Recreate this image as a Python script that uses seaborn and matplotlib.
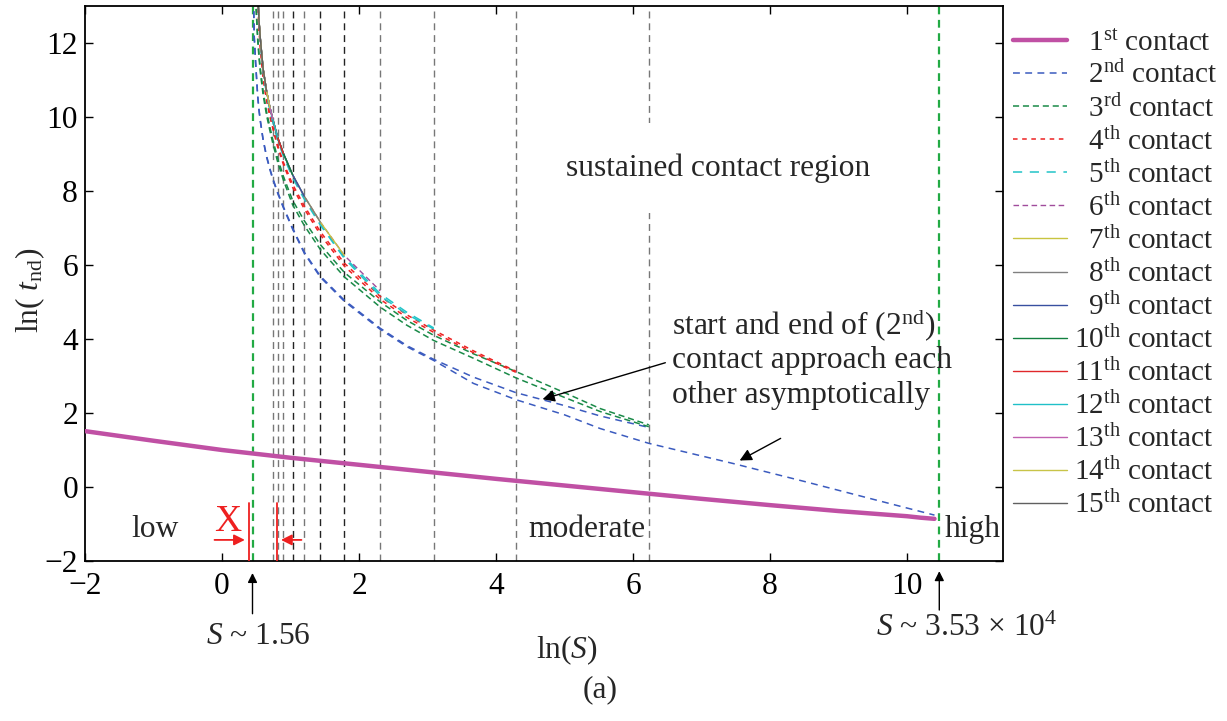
import numpy as np
import pandas as pd
import matplotlib
matplotlib.use("Agg")
import matplotlib.pyplot as plt
import seaborn as sns

nan = np.nan

# ---------------- data ----------------
contact1_lnS = [-2, -1, 0, 1, 2, 3, 4, 5, 6, 7, 8, 9, 9.5, 10, 10.2, 10.4]
contact1_ln_t = [1.51, 1.25, 1.0, 0.79, 0.6, 0.41, 0.22, 0.04, -0.14, -0.32,
                 -0.49, -0.65, -0.72, -0.79, -0.83, -0.86]

lnS_grid = [0.46, 0.47, 0.49, 0.52, 0.54, 0.56, 0.60, 0.65, 0.70, 0.74, 0.81,
            0.895, 1.03, 1.20, 1.435, 1.785, 2.31, 2.70, 3.09, 3.67, 4.29,
            5.00, 5.52, 6.23, 7.45, 8.50, 9.50, 10.40]

c2_start = [13.2, 12.2, 11.5, 10.6, 10.2, 9.9, 9.4, 8.95, 8.6, 8.35, 7.98, 7.58,
            7.0, 6.35, 5.7, 5.05, 4.29, 3.82, 3.45, 2.97, 2.55, 2.2, 1.92, 1.61]
c2_end = [13.2, 12.17, 11.47, 10.57, 10.17, 9.87, 9.37, 8.92, 8.57, 8.32, 7.95,
          7.55, 6.97, 6.32, 5.67, 5.02, 4.26, 3.79, 3.42, 2.80, 2.36, 1.95,
          1.58, 1.18, 0.64, 0.15, -0.33, -0.76]
c3_start = [nan, nan, 13.3, 12.2, 11.7, 11.3, 10.7, 10.15, 9.72, 9.4, 8.9, 8.4,
            7.75, 7.2, 6.55, 5.8, 5.0, 4.5, 4.1, 3.6, 3.12, 2.55, 2.12, 1.68]
c3_end = [nan, nan, 13.2, 12.1, 11.6, 11.2, 10.6, 10.05, 9.62, 9.3, 8.8, 8.3,
          7.63, 7.07, 6.42, 5.68, 4.86, 4.37, 3.96, 3.48, 2.95, 2.42, 2.04,
          1.63]
c4_start = [nan, nan, nan, 13.3, 12.4, 11.9, 11.1, 10.5, 10.05, 9.75, 9.25,
            8.78, 8.18, 7.6, 6.9, 6.05, 5.15, 4.65, 4.24, 3.68, 3.13]
c4_end = [nan, nan, nan, 13.25, 12.35, 11.85, 11.05, 10.45, 10.0, 9.7, 9.2,
          8.72, 8.1, 7.52, 6.82, 5.97, 5.07, 4.58, 4.18, 3.63, 3.1]
c5_start = [nan, nan, nan, 13.4, 12.55, 12.05, 11.25, 10.65, 10.2, 9.9, 9.42,
            8.98, 8.4, 7.82, 7.12, 6.22, 5.22, 4.72, 4.3]
c5_end = [nan, nan, nan, 13.38, 12.52, 12.02, 11.22, 10.62, 10.17, 9.87, 9.39,
          8.95, 8.36, 7.78, 7.08, 6.18, 5.16, 4.67, 4.27]
# contacts 6..15 lie on top of each other (upper bundle)
bundle_ln_t = [nan, nan, nan, 13.4, 12.6, 12.1, 11.3, 10.7, 10.25, 9.95, 9.46,
               9.02, 8.44, 7.86, 7.16, 6.26, 5.3]
bundle_end_lnS = {6: 2.31, 7: 1.785, 8: 1.435, 9: 1.20, 10: 1.03, 11: 0.895,
                  12: 0.81, 13: 0.74, 14: 0.70, 15: 0.65}

transition_lnS = [0.74, 0.81, 0.895, 1.03, 1.20, 1.435, 1.785, 2.31, 3.09,
                  4.29, 6.23]
regime_lnS = [0.445, 10.47]          # S ~ 1.56 and S ~ 3.53e4
x_band_lnS = [0.394, 0.80]

# ---------------- style ----------------
sns.set_theme(style="ticks")
plt.rcParams["font.family"] = ["Liberation Serif", "DejaVu Serif"]
plt.rcParams["mathtext.fontset"] = "custom"
plt.rcParams["mathtext.rm"] = "Liberation Serif"
plt.rcParams["mathtext.it"] = "Liberation Serif:italic"
plt.rcParams["mathtext.bf"] = "Liberation Serif:bold"
plt.rcParams["axes.linewidth"] = 1.3

FS = 22.7
LFS = 21

fig = plt.figure(figsize=(12.27, 7.21), dpi=100)
ax = fig.add_axes([85 / 1227, 1 - 561 / 721, (1003 - 85) / 1227, (561 - 6) / 721])


def draw(xs, ys, color, ls, lw, label="_nolegend_", z=2):
    n = len(ys)
    df = pd.DataFrame({"lnS": xs[:n], "lnt": ys}).dropna()
    sns.lineplot(data=df, x="lnS", y="lnt", ax=ax, color=color, linestyle=ls,
                 linewidth=lw, label=label, estimator=None, sort=False,
                 errorbar=None, zorder=z)


def ordinal(k):
    suf = {1: "st", 2: "nd", 3: "rd"}.get(k, "th")
    pad = "  " if k < 10 else ""
    return pad + str(k) + r"$^{\mathrm{" + suf + r"}}$ contact"


# vertical transition lines
trans_colors = ["#777777", "#777777", "#777777", "#222222", "#777777",
                "#222222", "#222222", "#777777", "#777777", "#777777", "#777777"]
for xv, col in zip(transition_lnS, trans_colors):
    ax.axvline(xv, color=col, linestyle=(0, (5, 3.5)), linewidth=1.0, zorder=1)
for xv in regime_lnS:
    ax.axvline(xv, color="#22aa44", linestyle=(0, (3.5, 2.5)), linewidth=1.6,
               zorder=1)

# curves
draw(contact1_lnS, contact1_ln_t, "#c050a4", "-", 3.2, ordinal(1), z=4)
draw(lnS_grid, c2_start, "#3b5bbf", (0, (4.5, 3.5)), 1.1, ordinal(2))
draw(lnS_grid, c2_end, "#3b5bbf", (0, (4.5, 3.5)), 1.1)
draw(lnS_grid, c3_start, "#1a8a48", (0, (4, 2.5)), 1.1, ordinal(3))
draw(lnS_grid, c3_end, "#1a8a48", (0, (4, 2.5)), 1.1)
draw(lnS_grid, c4_start, "#ee2222", (0, (3, 3)), 1.1, ordinal(4))
draw(lnS_grid, c4_end, "#ee2222", (0, (3, 3)), 1.1)
draw(lnS_grid, c5_start, "#22c4c8", (0, (6, 5)), 1.1, ordinal(5))
draw(lnS_grid, c5_end, "#22c4c8", (0, (6, 5)), 1.1)

bundle_styles = {
    6: ("#a04c9c", (0, (4, 2.5))),
    7: ("#c8c440", "-"),
    8: ("#808080", "-"),
    9: ("#3850a0", "-"),
    10: ("#128040", "-"),
    11: ("#e0282a", "-"),
    12: ("#20c0c8", "-"),
    13: ("#c060b0", "-"),
    14: ("#c8c448", "-"),
    15: ("#606060", "-"),
}
for k in range(6, 16):
    end = bundle_end_lnS[k]
    n = sum(1 for v in lnS_grid[:len(bundle_ln_t)] if v <= end + 1e-9)
    col, ls = bundle_styles[k]
    draw(lnS_grid, bundle_ln_t[:n], col, ls, 1.0, ordinal(k))

# axes
ax.set_xlim(-2, 11.4)
ax.set_ylim(-2, 13)
ax.set_xticks([-2, 0, 2, 4, 6, 8, 10])
ax.set_xticklabels(["\u22122", "0", "2", "4", "6", "8", "10"])
ax.set_yticks([-2, 0, 2, 4, 6, 8, 10, 12])
ax.set_yticklabels(["\u22122", "0", "2", "4", "6", "8", "10", "12"])
ax.tick_params(direction="in", top=True, right=True, length=6, width=1,
               labelsize=FS, colors="black")
ax.tick_params(axis="x", pad=8)
ax.tick_params(axis="y", pad=5)
ax.set_xlabel("")
ax.set_ylabel("")
for s in ax.spines.values():
    s.set_color("black")

# legend
handles, labels = ax.get_legend_handles_labels()
leg = ax.legend(handles, labels, loc="upper left",
                bbox_to_anchor=(0.8207, 0.9665), bbox_transform=fig.transFigure,
                borderaxespad=0, frameon=False, fontsize=LFS, handlelength=1.85,
                handletextpad=0.25, labelspacing=0.18, borderpad=0.2)

# texts inside the axes
ax.text(7.24, 8.62, "sustained contact region", fontsize=FS, ha="center",
        va="center", zorder=5,
        bbox=dict(facecolor="white", edgecolor="none", pad=22))
for yy, s in zip([4.38, 3.41, 2.46],
                 [r"start and end of (2$^{\mathrm{nd}}$)",
                  "contact approach each", "other asymptotically"]):
    ax.text(6.57, yy, s, fontsize=FS, ha="left", va="center", zorder=5)
ax.annotate("", xy=(4.64, 2.35), xytext=(6.51, 3.38),
            arrowprops=dict(arrowstyle="-|>", color="black", lw=1.0,
                            mutation_scale=18), zorder=5)
ax.annotate("", xy=(7.52, 0.68), xytext=(8.19, 1.35),
            arrowprops=dict(arrowstyle="-|>", color="black", lw=1.0,
                            mutation_scale=18), zorder=5)
ax.text(-0.98, -1.16, "low", fontsize=FS, ha="center", va="center")
ax.text(5.33, -1.16, "moderate", fontsize=FS, ha="center", va="center")
ax.text(10.95, -1.16, "high", fontsize=FS, ha="center", va="center")

# red "X" band marker
red = "#ee2020"
for xv in x_band_lnS:
    ax.plot([xv, xv], [-2, -0.44], color=red, lw=1.3, zorder=5)
ax.annotate("", xy=(x_band_lnS[0] - 0.02, -1.43), xytext=(-0.15, -1.43),
            arrowprops=dict(arrowstyle="-|>", color=red, lw=1.3,
                            mutation_scale=16))
ax.annotate("", xy=(x_band_lnS[1] + 0.02, -1.43), xytext=(1.20, -1.43),
            arrowprops=dict(arrowstyle="-|>", color=red, lw=1.3,
                            mutation_scale=16))
ax.text(0.09, -0.95, "X", color=red, fontsize=27, ha="center", va="center")

# annotations below the axes
ax.annotate("", xy=(regime_lnS[0], -2.25), xytext=(regime_lnS[0], -3.5),
            arrowprops=dict(arrowstyle="-|>", color="black", lw=1.0,
                            mutation_scale=14), annotation_clip=False)
ax.annotate("", xy=(regime_lnS[1], -2.2), xytext=(regime_lnS[1], -3.4),
            arrowprops=dict(arrowstyle="-|>", color="black", lw=1.0,
                            mutation_scale=14), annotation_clip=False)
fig.text(258 / 1227, 1 - 636 / 721, r"$S$ ~ 1.56", fontsize=FS,
         ha="center", va="center")
fig.text(967 / 1227, 1 - 628 / 721, r"$S$ ~ 3.53 $\times$ 10$^{4}$",
         fontsize=FS, ha="center", va="center")

fig.text(567 / 1227, 1 - 650 / 721, r"ln($S$)", fontsize=FS, ha="center",
         va="center")
fig.text(30 / 1227, 1 - 290 / 721, r"ln( $t_{\mathrm{nd}}$)", fontsize=FS,
         ha="center", va="center", rotation=90)
fig.text(600 / 1227, 1 - 690 / 721, "(a)", fontsize=FS, ha="center",
         va="center")

fig.savefig("out.png", dpi=100)
